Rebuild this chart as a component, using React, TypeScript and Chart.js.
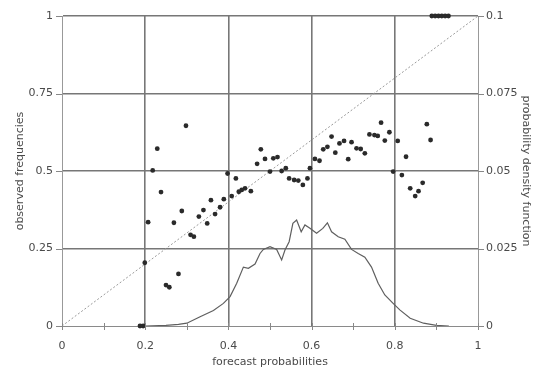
import React, { useEffect, useRef } from "react";
import { Chart, registerables } from "chart.js";

Chart.register(...registerables);

// Reliability diagram: observed frequencies vs forecast probabilities
const forecastProb = [
  0.1875, 0.195, 0.199, 0.207, 0.218, 0.229, 0.238, 0.25, 0.258, 0.269,
  0.28, 0.288, 0.298, 0.309, 0.317, 0.329, 0.34, 0.349, 0.358, 0.368,
  0.38, 0.389, 0.398, 0.408, 0.418, 0.425, 0.432, 0.44, 0.454, 0.469,
  0.478, 0.488, 0.5, 0.508, 0.518, 0.528, 0.538, 0.546, 0.558, 0.568,
  0.579, 0.59, 0.596, 0.608, 0.619, 0.628, 0.638, 0.648, 0.657, 0.667,
  0.678, 0.688, 0.696, 0.708, 0.718, 0.728, 0.739, 0.751, 0.759, 0.767,
  0.776, 0.787, 0.796, 0.807, 0.817, 0.827, 0.837, 0.849, 0.857, 0.867,
  0.877, 0.886, 0.889, 0.897, 0.905, 0.913, 0.921, 0.929,
];
const observedFreq = [
  0, 0, 0.204, 0.335, 0.502, 0.572, 0.432, 0.132, 0.125, 0.333,
  0.168, 0.371, 0.646, 0.294, 0.288, 0.353, 0.374, 0.331, 0.406, 0.361,
  0.383, 0.409, 0.492, 0.419, 0.476, 0.433, 0.439, 0.444, 0.435, 0.523,
  0.57, 0.539, 0.498, 0.541, 0.545, 0.5, 0.509, 0.476, 0.471, 0.469,
  0.455, 0.476, 0.509, 0.539, 0.533, 0.57, 0.578, 0.611, 0.559, 0.589,
  0.597, 0.538, 0.593, 0.573, 0.571, 0.557, 0.618, 0.616, 0.613, 0.656,
  0.598, 0.625, 0.498, 0.597, 0.487, 0.546, 0.444, 0.419, 0.435, 0.462,
  0.651, 0.6, 1, 1, 1, 1, 1, 1,
];

// Probability density function of forecasts (right axis)
const pdfX = [
  0.2, 0.25, 0.28, 0.3, 0.332, 0.364, 0.388, 0.404, 0.42, 0.436,
  0.448, 0.464, 0.476, 0.484, 0.5, 0.516, 0.528, 0.536, 0.546, 0.555,
  0.564, 0.575, 0.584, 0.596, 0.612, 0.627, 0.638, 0.648, 0.664, 0.68,
  0.696, 0.712, 0.728, 0.744, 0.76, 0.776, 0.796, 0.812, 0.837, 0.869,
  0.9, 0.93,
];
const pdfY = [
  0, 0.0002, 0.0005, 0.0009, 0.003, 0.005, 0.0073, 0.0095, 0.0138, 0.019,
  0.0186, 0.02, 0.0234, 0.0247, 0.0256, 0.0247, 0.0213, 0.0245, 0.0272, 0.0331,
  0.0342, 0.0304, 0.0326, 0.0315, 0.0299, 0.0315, 0.0333, 0.0304, 0.0288, 0.028,
  0.0247, 0.0234, 0.0222, 0.019, 0.0138, 0.01, 0.0073, 0.0052, 0.0025, 0.0009,
  0.0002, 0,
];

const diagonalX = [0, 1];
const diagonalY = [0, 1];

const xTickValues = [0, 0.2, 0.4, 0.6, 0.8, 1];
const xTickLabels = ["0", "0.2", "0.4", "0.6", "0.8", "1"];
const yTickValues = [0, 0.25, 0.5, 0.75, 1];
const yTickLabels = ["0", "0.25", "0.5", "0.75", "1"];
const y2TickValues = [0, 0.025, 0.05, 0.075, 0.1];
const y2TickLabels = ["0", "0.025", "0.05", "0.075", "0.1"];

const FONT = { family: "'DejaVu Sans', sans-serif", size: 11 };
const TEXT = "#4a4a4a";
const GRID = "#777777";
const AXIS = "#999999";

function labelFor(values: number[], labels: string[], v: number) {
  const i = values.findIndex((t) => Math.abs(t - v) < 1e-6);
  return i >= 0 ? labels[i] : "";
}

const tickMarks = {
  id: "tickMarks",
  afterDraw(chart: any) {
    const { ctx, chartArea, scales } = chart;
    ctx.save();
    ctx.strokeStyle = "#888";
    ctx.lineWidth = 1;
    ctx.beginPath();
    for (let i = 0; i <= 10; i++) {
      const x = Math.round(scales.x.getPixelForValue(i / 10)) + 0.5;
      ctx.moveTo(x, chartArea.bottom - 3);
      ctx.lineTo(x, chartArea.bottom + 4);
    }
    for (const v of yTickValues) {
      const y = Math.round(scales.y.getPixelForValue(v)) + 0.5;
      ctx.moveTo(chartArea.left - 6, y);
      ctx.lineTo(chartArea.left, y);
    }
    for (const v of y2TickValues) {
      const y = Math.round(scales.y2.getPixelForValue(v)) + 0.5;
      ctx.moveTo(chartArea.right, y);
      ctx.lineTo(chartArea.right + 6, y);
    }
    ctx.stroke();
    ctx.restore();
  },
};

export default function App() {
  const ref = useRef<HTMLCanvasElement | null>(null);

  useEffect(() => {
    if (!ref.current) return;
    const chart = new Chart(ref.current, {
      type: "scatter",
      data: {
        datasets: [
          {
            label: "observed",
            data: forecastProb.map((x, i) => ({ x, y: observedFreq[i] })),
            yAxisID: "y",
            pointRadius: 2.4,
            pointBackgroundColor: "#2a2a2a",
            pointBorderWidth: 0,
            showLine: false,
            clip: false,
          },
          {
            label: "pdf",
            data: pdfX.map((x, i) => ({ x, y: pdfY[i] })),
            yAxisID: "y2",
            showLine: true,
            pointRadius: 0,
            borderColor: "#5f5f5f",
            borderWidth: 1.2,
            tension: 0,
          },
          {
            label: "diagonal",
            data: diagonalX.map((x, i) => ({ x, y: diagonalY[i] })),
            yAxisID: "y",
            showLine: true,
            pointRadius: 0,
            borderColor: "#9a9a9a",
            borderWidth: 1,
            borderDash: [2, 2],
          },
        ],
      },
      options: {
        animation: false,
        responsive: false,
        maintainAspectRatio: false,
        layout: { padding: { top: 16, left: 0, right: 0, bottom: 0 } },
        plugins: { legend: { display: false }, tooltip: { enabled: false } },
        scales: {
          x: {
            type: "linear",
            min: 0,
            max: 1,
            afterFit: (s: any) => {
              s.height = 46;
            },
            afterBuildTicks: (s: any) => {
              s.ticks = xTickValues.map((v) => ({ value: v }));
            },
            ticks: {
              padding: 14,
              font: FONT,
              color: TEXT,
              maxRotation: 0,
              callback: (v: any) => labelFor(xTickValues, xTickLabels, Number(v)),
            },
            grid: {
              drawTicks: false,
              color: (c: any) =>
                c.tick && (c.tick.value <= 0 || c.tick.value >= 1) ? "rgba(0,0,0,0)" : GRID,
              lineWidth: 1.6,
            },
            border: { color: "#8a8a8a", width: 1 },
            title: {
              display: true,
              text: "forecast probabilities",
              font: FONT,
              color: TEXT,
              padding: { top: 0, bottom: 3 },
            },
          },
          y: {
            type: "linear",
            position: "left",
            min: 0,
            max: 1,
            afterFit: (s: any) => {
              s.width = 62;
            },
            afterBuildTicks: (s: any) => {
              s.ticks = yTickValues.map((v) => ({ value: v }));
            },
            ticks: {
              padding: 9,
              font: FONT,
              color: TEXT,
              callback: (v: any) => labelFor(yTickValues, yTickLabels, Number(v)),
            },
            grid: {
              drawTicks: false,
              color: (c: any) => (c.tick && c.tick.value <= 0 ? "rgba(0,0,0,0)" : GRID),
              lineWidth: 1.6,
            },
            border: { color: AXIS, width: 1 },
            title: {
              display: true,
              text: "observed frequencies",
              font: FONT,
              color: TEXT,
              padding: { top: 14, bottom: 0 },
            },
          },
          y2: {
            type: "linear",
            position: "right",
            min: 0,
            max: 0.1,
            afterFit: (s: any) => {
              s.width = 64;
            },
            afterBuildTicks: (s: any) => {
              s.ticks = y2TickValues.map((v) => ({ value: v }));
            },
            ticks: {
              padding: 8,
              font: FONT,
              color: TEXT,
              callback: (v: any) => labelFor(y2TickValues, y2TickLabels, Number(v)),
            },
            grid: { display: false, drawTicks: false },
            border: { color: AXIS, width: 1 },
            title: {
              display: true,
              text: "probability density function",
              font: FONT,
              color: TEXT,
              padding: { top: 10, bottom: 0 },
            },
          },
        },
      },
      plugins: [tickMarks],
    });
    return () => chart.destroy();
  }, []);

  return (
    <div style={{ position: "absolute", left: 0, top: 0, width: 542, height: 372, background: "#fff" }}>
      <canvas ref={ref} width={542} height={372} style={{ display: "block" }} />
    </div>
  );
}
